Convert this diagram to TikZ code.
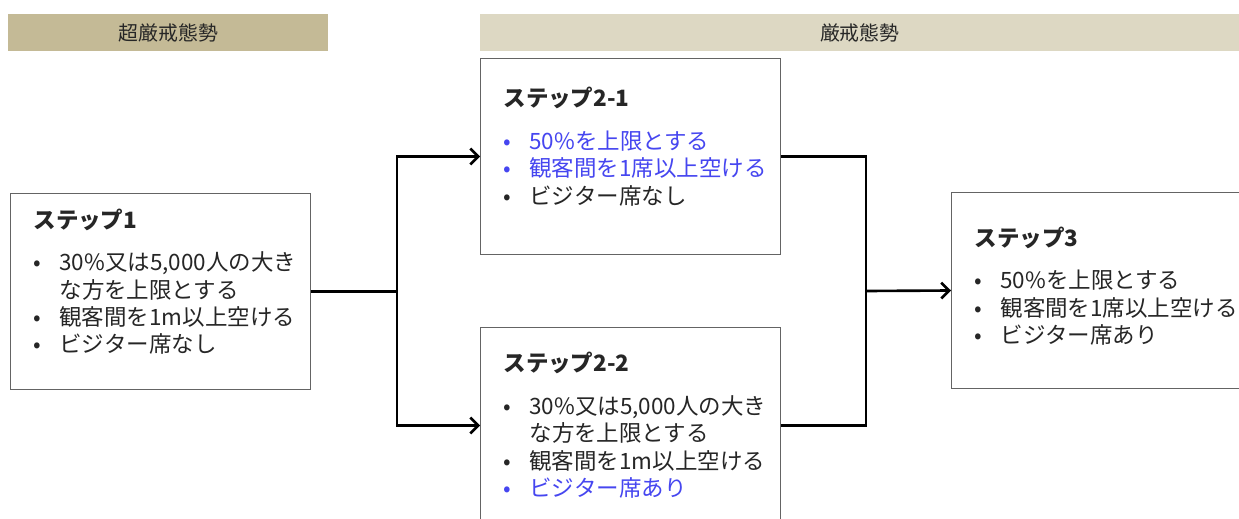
\documentclass[tikz,border=0pt]{standalone}
\usepackage{fontspec}
\setmainfont{Noto Sans CJK JP}
\usetikzlibrary{arrows,arrows.meta,positioning,calc}

\definecolor{hdrdark}{RGB}{196,186,150}
\definecolor{hdrlight}{RGB}{221,216,195}
\definecolor{stepblue}{RGB}{70,70,240}
\definecolor{steptext}{RGB}{38,38,38}
\definecolor{stepframe}{RGB}{100,100,100}

\newcommand{\stepitem}[2][steptext]{{\color{#1}\makebox[0.52cm][l]{•}#2}}
\newcommand{\steptitle}[1]{{\bfseries #1}\\[0.30cm]}
\newcommand{\stepend}[1][-0.12cm]{\\[#1]\mbox{}}

\tikzset{
  stepbox/.style={draw=stepframe, line width=0.6pt, fill=white, anchor=north west,
    minimum width=6cm, minimum height=3.92cm, text width=5.08cm,
    inner xsep=0.46cm, inner ysep=0pt, align=left, text=steptext,
    font=\fontsize{12.8}{15.6}\selectfont},
  hdrbox/.style={anchor=north west, minimum height=0.74cm, inner sep=0pt,
    font=\fontsize{11.3}{13}\selectfont, text=steptext},
  flow/.style={line width=1.5pt, black}
}

\begin{document}
\begin{tikzpicture}[>={Straight Barb[length=4.5pt,width=9pt]}, x=0.02cm, y=-0.02cm]
\useasboundingbox (0,0) rectangle (1239,519);
\clip (0,0) rectangle (1239,519);

% headers
\node[hdrbox, fill=hdrdark, minimum width=6.4cm] (h1) at (8,14) {超厳戒態勢};
\node[hdrbox, fill=hdrlight, minimum width=15.18cm] (h2) at (480,14) {厳戒態勢};

% steps
\node[stepbox] (s1) at (10,193) {\steptitle{ステップ1}
  \stepitem{30\%又は5,000人の大き}\\\hspace*{0.52cm}な方を上限とする\\
  \stepitem{観客間を1m以上空ける}\\
  \stepitem{ビジター席なし}\stepend};
\node[stepbox] (s21) at (480,58) {\steptitle{ステップ2-1}
  \stepitem[stepblue]{50\%を上限とする}\\
  \stepitem[stepblue]{観客間を1席以上空ける}\\
  \stepitem{ビジター席なし}\stepend};
\node[stepbox] (s22) at (480,327) {\steptitle{ステップ2-2}
  \stepitem{30\%又は5,000人の大き}\\\hspace*{0.52cm}な方を上限とする\\
  \stepitem{観客間を1m以上空ける}\\
  \stepitem[stepblue]{ビジター席あり}};
\node[stepbox] (s3) at (951,192) {\steptitle{ステップ3}
  \stepitem{50\%を上限とする}\\
  \stepitem{観客間を1席以上空ける}\\
  \stepitem{ビジター席あり}\stepend[-0.34cm]};

% connectors
\coordinate[right=1.72cm of s1.east] (j1);
\coordinate (j2) at (866,291);
\draw[flow] (s1.east) -- (j1);
\draw[flow,->] (j1) |- (s21.west);
\draw[flow,->] (j1) |- (s22.west);
\draw[flow] (s21.east) -| (j2);
\draw[flow] (s22.east) -| (j2);
\draw[flow,->] (j2) -- (s3.west);

\end{tikzpicture}
\end{document}
